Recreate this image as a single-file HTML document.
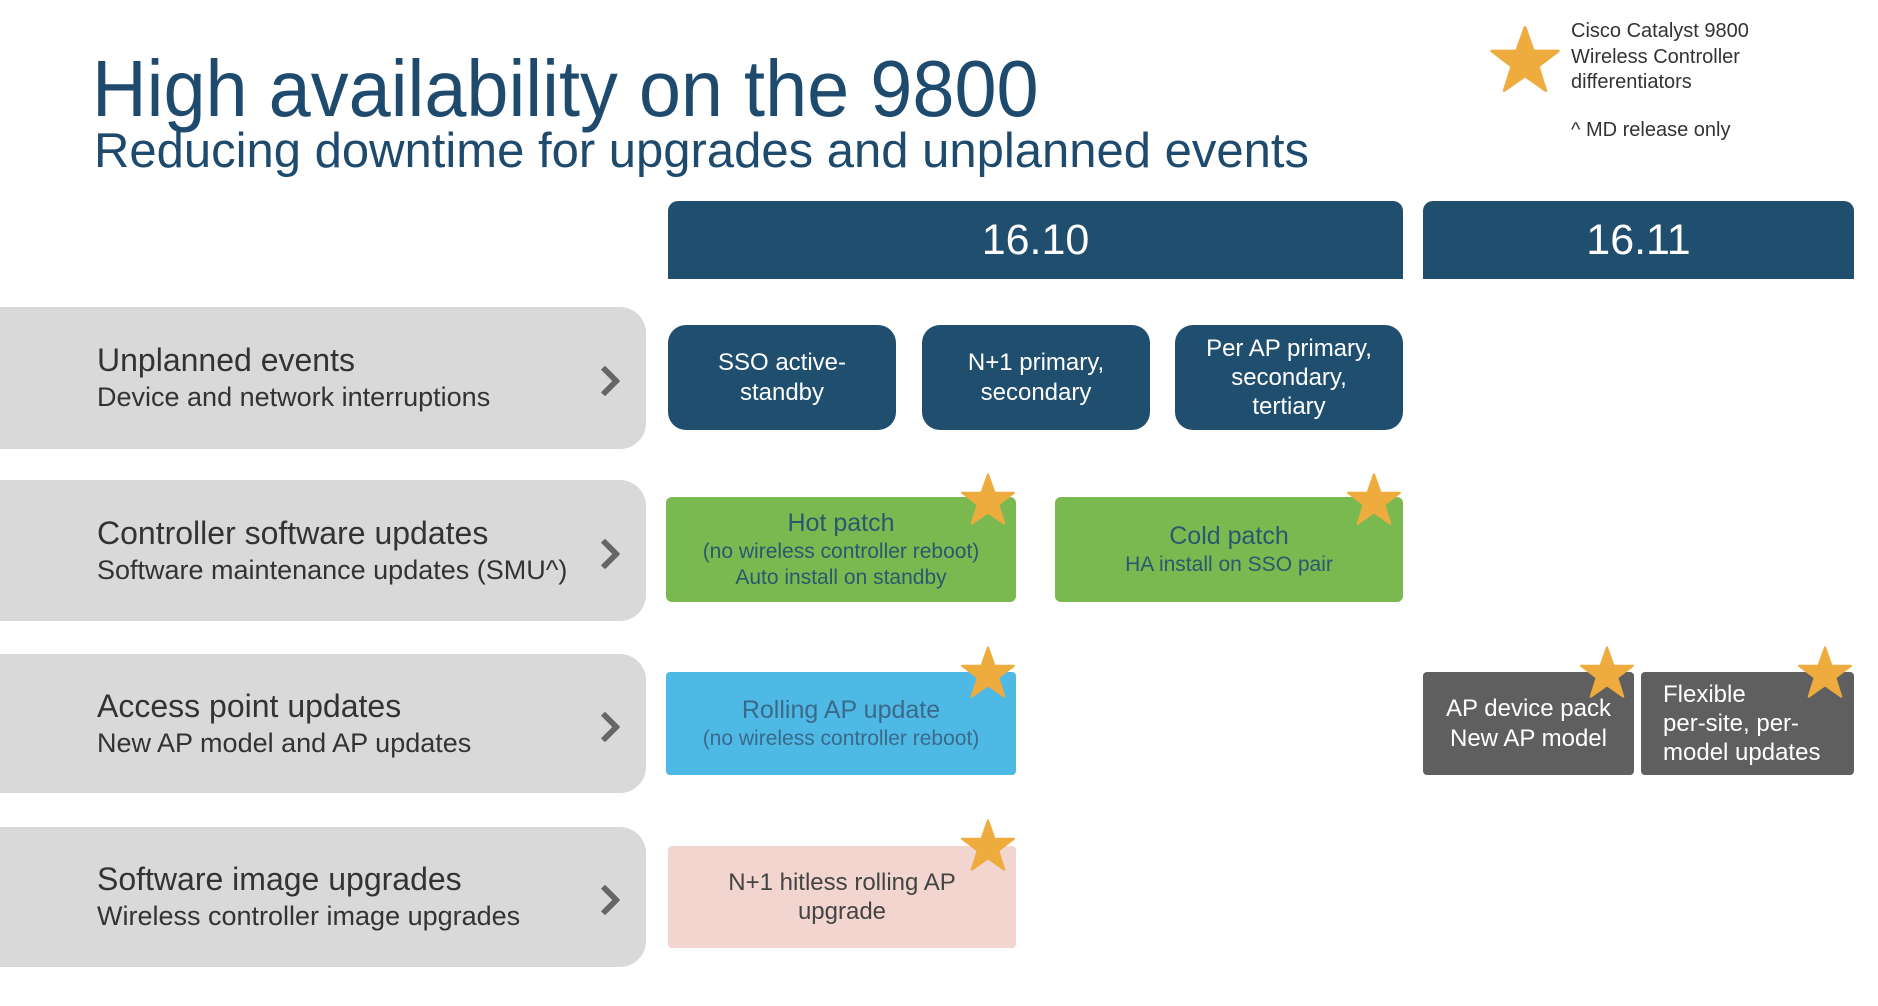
<!DOCTYPE html>
<html><head><meta charset="utf-8"><style>
body{margin:0;width:1878px;height:1006px;background:#fff;position:relative;overflow:hidden;font-family:"Liberation Sans",sans-serif}
.a{position:absolute}
.t{color:#1e4a6e;white-space:nowrap}
.row{position:absolute;left:0;width:646px;background:#d9d9d9;border-radius:0 26px 26px 0}
.row .h{position:absolute;left:97px;font-size:32px;color:#333;white-space:nowrap}
.row .s{position:absolute;left:97px;font-size:27px;color:#333;white-space:nowrap}
.chev{position:absolute;left:594px;width:16px;height:16px;border-right:6px solid #666;border-top:6px solid #666;transform:rotate(45deg);border-radius:2px}
.box{position:absolute;display:flex;align-items:center;justify-content:center;text-align:center;flex-direction:column;line-height:1.22}
.hdr{position:absolute;top:201px;height:78px;background:#1f4e6e;border-radius:10px 10px 0 0;color:#fff;font-size:43px;display:flex;align-items:center;justify-content:center}
.star{position:absolute;width:54px;height:54px}
</style></head><body>
<div class="a t" style="left:92px;top:44px;font-size:80px;line-height:90px;transform:scaleX(0.946);transform-origin:0 0">High availability on the 9800</div>
<div class="a t" style="left:94px;top:123px;font-size:49px;line-height:56px">Reducing downtime for upgrades and unplanned events</div>

<svg class="a" style="left:1490px;top:26px" width="70" height="66" viewBox="0 0 100 95"><polygon points="50,2 62,36 98,36 69,58 80,93 50,72 20,93 31,58 2,36 38,36" fill="#efac3e" stroke="#efac3e" stroke-width="4" stroke-linejoin="round"/></svg>
<div class="a" style="left:1571px;top:19px;font-size:20px;line-height:25.5px;color:#333">Cisco Catalyst 9800<br>Wireless Controller<br>differentiators</div>
<div class="a" style="left:1571px;top:119px;font-size:20px;color:#333">^ MD release only</div>

<div class="hdr" style="left:668px;width:735px">16.10</div>
<div class="hdr" style="left:1423px;width:431px">16.11</div>

<div class="row" style="top:307px;height:142px"><div class="h" style="top:35px">Unplanned events</div><div class="s" style="top:75px">Device and network interruptions</div><div class="chev" style="top:63px"></div></div>
<div class="row" style="top:480px;height:141px"><div class="h" style="top:35px">Controller software updates</div><div class="s" style="top:75px">Software maintenance updates (SMU^)</div><div class="chev" style="top:63px"></div></div>
<div class="row" style="top:654px;height:139px"><div class="h" style="top:34px">Access point updates</div><div class="s" style="top:74px">New AP model and AP updates</div><div class="chev" style="top:62px"></div></div>
<div class="row" style="top:827px;height:140px"><div class="h" style="top:34px">Software image upgrades</div><div class="s" style="top:74px">Wireless controller image upgrades</div><div class="chev" style="top:62px"></div></div>

<div class="box" style="left:668px;top:325px;width:228px;height:105px;background:#1f4e6e;border-radius:18px;color:#fff;font-size:24px">SSO active-<br>standby</div>
<div class="box" style="left:922px;top:325px;width:228px;height:105px;background:#1f4e6e;border-radius:18px;color:#fff;font-size:24px">N+1 primary,<br>secondary</div>
<div class="box" style="left:1175px;top:325px;width:228px;height:105px;background:#1f4e6e;border-radius:18px;color:#fff;font-size:24px">Per AP primary,<br>secondary,<br>tertiary</div>

<div class="box" style="left:666px;top:497px;width:350px;height:105px;background:#7ab94f;border-radius:6px;color:#2a5870;font-size:21px;line-height:1.25"><span style="font-size:25px">Hot patch</span>(no wireless controller reboot)<br>Auto install on standby</div>
<div class="box" style="left:1055px;top:497px;width:348px;height:105px;background:#7ab94f;border-radius:6px;color:#2a5870;font-size:21px;line-height:1.25"><span style="font-size:25px">Cold patch</span>HA install on SSO pair</div>

<div class="box" style="left:666px;top:672px;width:350px;height:103px;background:#4fb9e6;border-radius:4px;color:#3a6a8a;font-size:21px;line-height:1.25"><span style="font-size:25px">Rolling AP update</span>(no wireless controller reboot)</div>
<div class="box" style="left:1423px;top:672px;width:211px;height:103px;background:#5f5f5f;border-radius:4px;color:#fff;font-size:24px">AP device pack<br>New AP model</div>
<div class="box" style="left:1641px;top:672px;width:213px;height:103px;background:#5f5f5f;border-radius:4px;color:#fff;font-size:24px;align-items:flex-start;text-align:left;padding-left:22px;box-sizing:border-box">Flexible<br>per-site, per-<br>model updates</div>

<div class="box" style="left:668px;top:846px;width:348px;height:102px;background:#f3d5d0;border-radius:4px;color:#444;font-size:24px">N+1 hitless rolling AP<br>upgrade</div>

<svg width="0" height="0" style="position:absolute"><defs><polygon id="st" points="50,2 62,36 98,36 69,58 80,93 50,72 20,93 31,58 2,36 38,36" fill="#efac3e" stroke="#efac3e" stroke-width="4" stroke-linejoin="round"/></defs></svg>
<svg class="star" style="left:961px;top:472px" viewBox="0 0 100 95"><use href="#st"/></svg>
<svg class="star" style="left:1347px;top:472px" viewBox="0 0 100 95"><use href="#st"/></svg>
<svg class="star" style="left:961px;top:645px" viewBox="0 0 100 95"><use href="#st"/></svg>
<svg class="star" style="left:1580px;top:645px" viewBox="0 0 100 95"><use href="#st"/></svg>
<svg class="star" style="left:1798px;top:645px" viewBox="0 0 100 95"><use href="#st"/></svg>
<svg class="star" style="left:961px;top:818px" viewBox="0 0 100 95"><use href="#st"/></svg>
</body></html>
